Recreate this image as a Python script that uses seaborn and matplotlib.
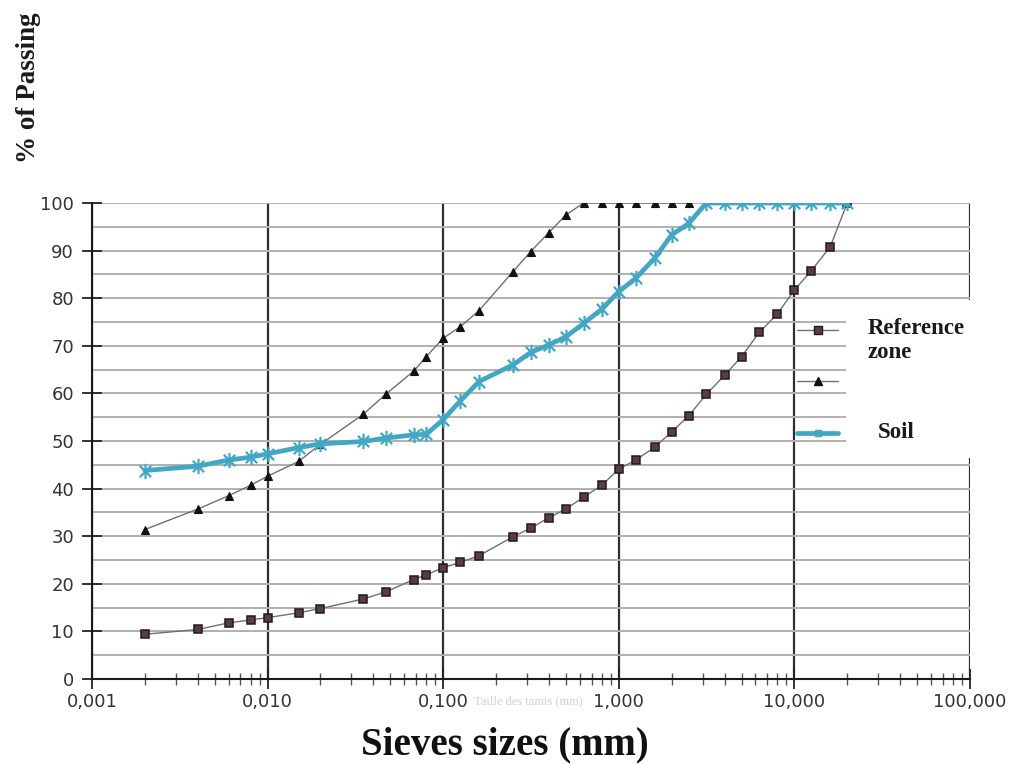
import matplotlib
matplotlib.use("Agg")
import matplotlib.pyplot as plt
import numpy as np
import pandas as pd
import seaborn as sns
from matplotlib.path import Path
from matplotlib.lines import Line2D
from matplotlib.patches import Rectangle
from matplotlib.ticker import FixedLocator, FuncFormatter, LogLocator, MultipleLocator, NullFormatter

# Sieve openings (mm) and cumulative % passing
sizes = [0.002, 0.004, 0.006, 0.008, 0.010, 0.015, 0.020, 0.035, 0.047, 0.068, 0.080,
         0.100, 0.125, 0.160, 0.250, 0.315, 0.400, 0.500, 0.630, 0.800,
         1.0, 1.25, 1.6, 2.0, 2.5, 3.15, 4.0, 5.0, 6.3, 8.0, 10.0, 12.5, 16.0, 20.0]

zone_lower = [9.4, 10.4, 11.8, 12.4, 12.9, 13.9, 14.8, 16.8, 18.3, 20.9, 21.9,
              23.4, 24.5, 25.9, 29.9, 31.7, 33.9, 35.7, 38.2, 40.7,
              44.1, 46.0, 48.7, 51.9, 55.3, 59.8, 63.8, 67.7, 72.8, 76.7, 81.7, 85.8, 90.8, 100]

upper_sizes = sizes[:25]
zone_upper = [31.4, 35.7, 38.5, 40.7, 42.6, 45.7, 49.3, 55.6, 59.8, 64.7, 67.7,
              71.6, 74.0, 77.4, 85.6, 89.8, 93.8, 97.5, 100, 100,
              100, 100, 100, 100, 100]

soil = [43.8, 44.7, 46.0, 46.6, 47.3, 48.6, 49.4, 49.9, 50.6, 51.3, 51.4,
        54.5, 58.4, 62.5, 66.0, 68.6, 70.2, 71.9, 74.7, 77.7,
        81.4, 84.2, 88.4, 93.3, 95.7, 100, 100, 100, 100, 100, 100, 100, 100, 100]

y_ticks = [0, 10, 20, 30, 40, 50, 60, 70, 80, 90, 100]
x_decades = [0.001, 0.01, 0.1, 1, 10, 100]

df_lower = pd.DataFrame({"size": sizes, "passing": zone_lower})
df_upper = pd.DataFrame({"size": upper_sizes, "passing": zone_upper})
df_soil = pd.DataFrame({"size": sizes, "passing": soil})

SOIL_COLOR = "#43a7c4"
LINK_COLOR = "#707070"
SERIF = ["Liberation Serif", "DejaVu Serif"]

# asterisk marker: a cross plus a vertical stroke
asterisk = Path([(-1, -1), (1, 1), (-1, 1), (1, -1), (0, -1.35), (0, 1.35)],
                [Path.MOVETO, Path.LINETO, Path.MOVETO, Path.LINETO, Path.MOVETO, Path.LINETO])

sns.set_theme(style="white")
plt.rcParams["font.family"] = ["DejaVu Sans"]

W, H = 1015, 764
fig = plt.figure(figsize=(W / 100, H / 100), dpi=100)
ax = fig.add_axes([92 / W, 1 - 679 / H, 878 / W, 476 / H])

sns.lineplot(data=df_lower, x="size", y="passing", ax=ax, sort=False, estimator=None,
             color=LINK_COLOR, lw=1.0, marker="s", ms=6, mfc="#5e3a42", mec="#1c1c1c",
             mew=1.1, zorder=3)
sns.lineplot(data=df_upper, x="size", y="passing", ax=ax, sort=False, estimator=None,
             color=LINK_COLOR, lw=1.0, marker="^", ms=6, mfc="#111111", mec="#111111",
             mew=0.8, zorder=3)
sns.lineplot(data=df_soil, x="size", y="passing", ax=ax, sort=False, estimator=None,
             color=SOIL_COLOR, lw=3.4, marker=asterisk, ms=11, mfc="none", mec=SOIL_COLOR,
             mew=1.6, zorder=4)

ax.set_xscale("log")
ax.set_xlim(0.001, 100)
ax.set_ylim(0, 100)
ax.set_xlabel("")
ax.set_ylabel("")

ax.xaxis.set_major_locator(FixedLocator(x_decades))
ax.xaxis.set_minor_locator(LogLocator(base=10, subs=np.arange(2, 10)))
ax.xaxis.set_major_formatter(FuncFormatter(lambda v, _: f"{v:.3f}".replace(".", ",")))
ax.xaxis.set_minor_formatter(NullFormatter())
ax.yaxis.set_major_locator(FixedLocator(y_ticks))
ax.yaxis.set_minor_locator(MultipleLocator(5))

ax.grid(False)
ax.grid(axis="y", which="both", color="#b0b0b0", lw=1.4)
ax.grid(axis="x", which="major", color="#2e2e2e", lw=1.6)
ax.grid(axis="x", which="minor", visible=False)

ax.tick_params(axis="both", which="both", bottom=True, left=True, top=False, right=False)
ax.tick_params(axis="y", which="major", direction="inout", length=14, width=1.3,
               color="#222222", labelsize=13, labelcolor="#333333", pad=6)
ax.tick_params(axis="y", which="minor", length=0)
ax.tick_params(axis="x", which="major", direction="inout", length=14, width=1.3,
               color="#222222", labelsize=13, labelcolor="#333333", pad=3)
ax.tick_params(axis="x", which="minor", direction="inout", length=8, width=1.0,
               color="#555555")

for side in ("top", "right"):
    ax.spines[side].set_visible(False)
for side in ("left", "bottom"):
    ax.spines[side].set_color("#1a1a1a")
    ax.spines[side].set_linewidth(1.5)

# blank panel behind the legend labels
ax.add_patch(Rectangle(((846 - 92) / 878, (679 - 458) / 476), (985 - 846) / 878, 158 / 476,
                       transform=ax.transAxes, facecolor="white", edgecolor="none",
                       zorder=2.5, clip_on=False))

handles = [
    Line2D([], [], color=LINK_COLOR, lw=1.0, marker="s", ms=6, mfc="#5e3a42", mec="#1c1c1c"),
    Line2D([], [], color=LINK_COLOR, lw=1.0, marker="^", ms=6, mfc="#111111", mec="#111111"),
    Line2D([], [], color=SOIL_COLOR, lw=3.4, marker="s", ms=4, mfc=SOIL_COLOR, mec=SOIL_COLOR),
]
ax.legend(handles, ["", "", ""], loc="upper left", bbox_to_anchor=(797 / W, 1 - 321.5 / H),
          bbox_transform=fig.transFigure, frameon=False, fontsize=16, handlelength=1.85,
          handletextpad=0, labelspacing=1.42, borderpad=0, borderaxespad=0)

fig.text(868 / W, 1 - 358 / H, "Reference\nzone", family=SERIF, weight="bold", fontsize=16.5,
         color="#1a1a1a", ha="left", va="baseline", linespacing=1.17)
fig.text(878 / W, 1 - 438 / H, "Soil", family=SERIF, weight="bold", fontsize=16.5,
         color="#1a1a1a", ha="left", va="baseline")

fig.text(29 / W, 1 - 88 / H, "% of Passing", family=SERIF, weight="bold", fontsize=19.5,
         color="#1a1a1a", rotation=90, ha="center", va="center")
fig.text(505 / W, 1 - 745 / H, "Sieves sizes (mm)", family=SERIF, weight="bold", fontsize=28,
         color="#111111", ha="center", va="center")
fig.text(528 / W, 1 - 701 / H, "Taille des tamis (mm)", family=SERIF, fontsize=9,
         color="#cfcfcf", ha="center", va="center")

fig.savefig("out.png", dpi=100, facecolor="white")
